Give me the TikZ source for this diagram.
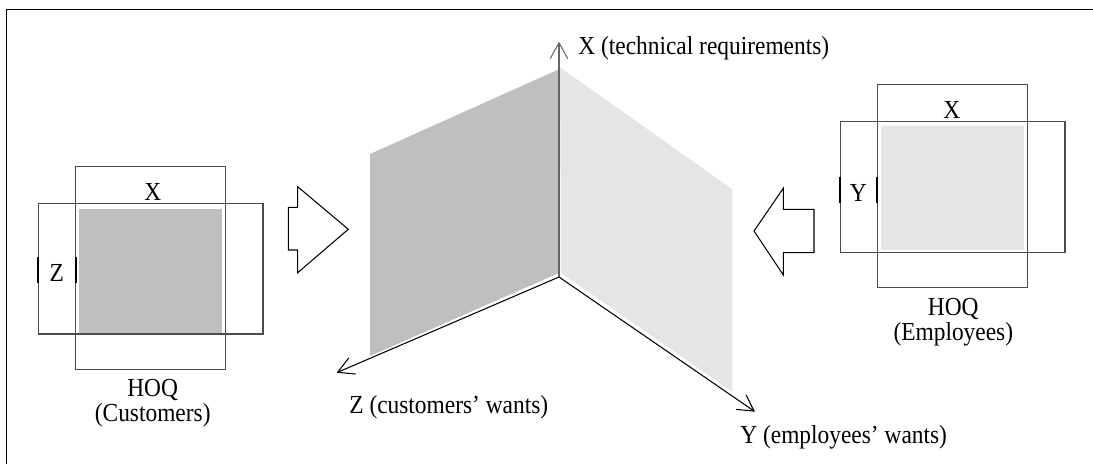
\documentclass[tikz,border=0pt]{standalone}
\usepackage{fontspec}
\setmainfont{Liberation Serif}
\newfontfamily\lblfont[FakeStretch=0.9]{Liberation Serif}
\usetikzlibrary{arrows.meta}
\definecolor{darkpanel}{gray}{0.75}
\definecolor{lightpanel}{gray}{0.9}
\definecolor{boxline}{gray}{0.3}
\tikzset{
  hoqline/.style={draw=boxline, line width=0.6pt},
  bar/.style={draw=black, line width=1.3pt},
  axis/.style={line width=0.6pt, -{Straight Barb[length=9pt,width=10pt]}},
  lbl/.style={inner sep=0pt, font=\lblfont\fontsize{14.8}{15}\selectfont}
}
\begin{document}
\begin{tikzpicture}[x=0.02cm, y=-0.02cm]
\useasboundingbox (0, 0) rectangle (1093, 464);
\draw [line width=0.6pt] (6.7, 464) -- (6.7, 9.3) -- (1093, 9.3);

% customers HOQ
\fill [darkpanel] (79, 209) rectangle (222.3, 332.7);
\draw [hoqline] (75.7, 166.7) rectangle (225.7, 369.3);
\draw [hoqline] (38.3, 203.7) rectangle (263, 334);
\draw [bar] (38.3, 256.7) -- (38.3, 282.7);
\draw [bar] (76, 256.7) -- (76, 282.7);
\node at (152.7, 192) [lbl] (xcust) {X};
\node at (56.7, 273) [lbl] (zcust) {Z};
\node at (152.7, 403) [lbl, align=center] (hoqcust) {HOQ\\[-1pt](Customers)};

% employees HOQ
\fill [lightpanel] (881, 125.7) rectangle (1024.3, 250);
\draw [hoqline] (877.3, 84.3) rectangle (1027.3, 287.3);
\draw [hoqline] (840.3, 121.7) rectangle (1065, 252.3);
\draw [bar] (840.3, 177.3) -- (840.3, 202.7);
\draw [bar] (877.3, 177.3) -- (877.3, 202.7);
\node at (951.7, 110) [lbl] (xemp) {X};
\node at (858.3, 193) [lbl] (yemp) {Y};
\node at (953.3, 322) [lbl, align=center] (hoqemp) {HOQ\\[-1pt](Employees)};

% block arrows
\draw [line width=0.6pt, fill=white] (288.3, 207.3) -- (297.7, 207.3) -- (297.7, 186.7) -- (348.3, 229.3)
  -- (297.7, 272.7) -- (297.7, 250) -- (288.3, 250) -- cycle;
\draw [line width=0.6pt, fill=white] (814, 209.3) -- (783.3, 209.3) -- (783.3, 188.3) -- (754, 231)
  -- (783.3, 275) -- (783.3, 252.7) -- (814, 252.7) -- cycle;

% the two planes
\fill [darkpanel] (559, 69.3) -- (370, 154) -- (370, 356) -- (559, 273) -- cycle;
\fill [lightpanel] (560, 67.3) -- (732.3, 189.3) -- (732.3, 391.7) -- (561, 273) -- cycle;

\coordinate (o) at (559, 277);
\coordinate (xtip) at (559, 41.7);
\coordinate (ztip) at (336.7, 372.7);
\coordinate (ytip) at (755, 411.7);
\draw [axis, draw=black!60] (o) -- (xtip);
\draw [axis] (o) -- (ztip);
\draw [axis] (o) -- (ytip);

\node at (578, 48) [lbl, anchor=west] (xaxis) {X (technical requirements)};
\node at (349, 407) [lbl, anchor=west] (zaxis) {Z (customers’ wants)};
\node at (740, 437) [lbl, anchor=west] (yaxis) {Y (employees’ wants)};
\end{tikzpicture}
\end{document}
